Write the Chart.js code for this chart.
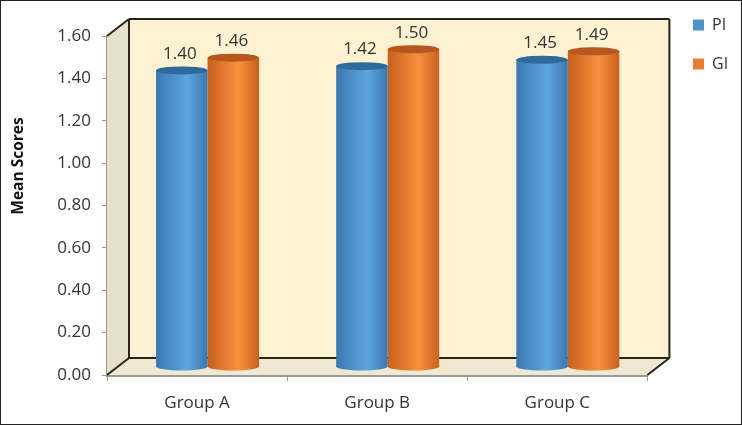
<!DOCTYPE html>
<html>
<head>
<meta charset="utf-8">
<script src="https://cdn.jsdelivr.net/npm/chart.js@4"></script>
<style>
    html, body { margin: 0; padding: 0; background: #fff; }
    #wrap { width: 742px; height: 425px; position: relative; }
    canvas { filter: blur(0.4px); }
</style>
</head>
<body>
<div id="wrap"><canvas id="chart"></canvas></div>
<script>
const categories = ["Group A", "Group B", "Group C"];
const piValues = [1.40, 1.42, 1.45];
const giValues = [1.46, 1.50, 1.49];
const yTicks = [0, 0.2, 0.4, 0.6, 0.8, 1.0, 1.2, 1.4, 1.6];

const FONT = "'Open Sans', sans-serif";
const TEXT = "#333";

// fake 3d depth of the box, bars stand half way in
const DEPTH_X = 22, DEPTH_Y = 17;
const BAR_DX = 10.5, BAR_DY = 8;
const CAP_RY = 4;

const colors = [
    { edge: "#3a78b2", mid: "#5ea6de", cap: "#2f6a9e" },
    { edge: "#c8601f", mid: "#f88f3e", cap: "#b8561e" },
];

function poly(ctx, pts, fill) {
    ctx.beginPath();
    pts.forEach((p, i) => (i ? ctx.lineTo(p[0], p[1]) : ctx.moveTo(p[0], p[1])));
    ctx.closePath();
    ctx.fillStyle = fill;
    ctx.fill();
}

function seg(ctx, a, b, color, width) {
    ctx.beginPath();
    ctx.moveTo(a[0], a[1]);
    ctx.lineTo(b[0], b[1]);
    ctx.strokeStyle = color;
    ctx.lineWidth = width;
    ctx.stroke();
}

const box3d = {
    id: "box3d",
    afterLayout(chart) {
        // legend sits higher than the plot top
        chart.legend.left = 670;
        chart.legend.right = 742;
        chart.legend.top = -6;
    },
    beforeDatasetsDraw(chart) {
        const { ctx, chartArea: a } = chart;
        const bl = [a.left, a.bottom], br = [a.right, a.bottom], tl = [a.left, a.top];
        const bbl = [a.left + DEPTH_X, a.bottom - DEPTH_Y];
        const bbr = [a.right + DEPTH_X, a.bottom - DEPTH_Y];
        const btl = [a.left + DEPTH_X, a.top - DEPTH_Y];
        const btr = [a.right + DEPTH_X, a.top - DEPTH_Y];
        ctx.save();
        poly(ctx, [btl, btr, bbr, bbl], "#fdf3d3");
        poly(ctx, [tl, btl, bbl, bl], "#e6e1ca");
        poly(ctx, [bl, bbl, bbr, br], "#efe9d2");
        seg(ctx, btl, btr, "#2a241c", 2);
        seg(ctx, btr, bbr, "#2a241c", 2);
        seg(ctx, btl, bbl, "#2a241c", 2);
        seg(ctx, bbl, bbr, "#2a241c", 2);
        seg(ctx, tl, btl, "#2a241c", 2);
        seg(ctx, bl, bbl, "#2a241c", 2);
        seg(ctx, br, bbr, "#2a241c", 2);
        ctx.restore();
    },
    beforeDatasetDraw(chart, args) {
        const { ctx } = chart;
        const c = colors[args.index];
        ctx.save();
        ctx.translate(BAR_DX, -BAR_DY);
        args.meta.data.forEach((bar) => {
            const left = bar.x - bar.width / 2, right = bar.x + bar.width / 2;
            const g = ctx.createLinearGradient(left, 0, right, 0);
            g.addColorStop(0, c.edge);
            g.addColorStop(0.6, c.mid);
            g.addColorStop(1, c.edge);
            bar.options = { ...bar.options, backgroundColor: g };
            // rounded foot of the cylinder
            ctx.beginPath();
            ctx.ellipse(bar.x, bar.base, bar.width / 2, CAP_RY, 0, 0, Math.PI * 2);
            ctx.fillStyle = g;
            ctx.fill();
        });
    },
    afterDatasetDraw(chart, args) {
        const { ctx } = chart;
        const c = colors[args.index];
        args.meta.data.forEach((bar) => {
            ctx.beginPath();
            ctx.ellipse(bar.x, bar.y, bar.width / 2, CAP_RY, 0, 0, Math.PI * 2);
            ctx.fillStyle = c.cap;
            ctx.fill();
        });
        ctx.restore();
    },
    afterDatasetsDraw(chart) {
        const { ctx } = chart;
        ctx.save();
        ctx.font = "17px " + FONT;
        ctx.fillStyle = TEXT;
        ctx.textAlign = "center";
        ctx.textBaseline = "middle";
        chart.data.datasets.forEach((ds, i) => {
            chart.getDatasetMeta(i).data.forEach((bar, j) => {
                ctx.fillText(ds.data[j].toFixed(2), bar.x + BAR_DX - 2, bar.y - BAR_DY - 16.5);
            });
        });
        // axis title is not centred on the axis in the original
        ctx.translate(19, 166);
        ctx.rotate(-Math.PI / 2);
        ctx.font = "bold 15.5px " + FONT;
        ctx.fillStyle = "#111";
        ctx.fillText("Mean Scores", 0, 0);
        ctx.restore();
        // picture border
        ctx.save();
        ctx.strokeStyle = "#222";
        ctx.lineWidth = 2;
        ctx.strokeRect(0, 0, chart.width, chart.height);
        ctx.restore();
    },
};

new Chart(document.getElementById("chart"), {
    type: "bar",
    data: {
        labels: categories,
        datasets: [
            { label: "PI", data: piValues, backgroundColor: "#4f93cf" },
            { label: "GI", data: giValues, backgroundColor: "#ec7a30" },
        ],
    },
    options: {
        responsive: true,
        maintainAspectRatio: false,
        animation: false,
        layout: { padding: { top: 36, right: 26.5, bottom: 0, left: 0 } },
        datasets: { bar: { barPercentage: 1, categoryPercentage: 0.572 } },
        plugins: {
            tooltip: { enabled: false },
            legend: {
                position: "right",
                align: "start",
                labels: {
                    boxWidth: 11,
                    boxHeight: 11,
                    padding: 23,
                    color: TEXT,
                    font: { family: FONT, size: 16 },
                },
            },
        },
        scales: {
            x: {
                border: { color: "#999", width: 3 },
                grid: { drawOnChartArea: false, drawTicks: true, tickLength: 6, color: "#999", lineWidth: 1 },
                ticks: { color: TEXT, padding: 12, font: { family: FONT, size: 17 } },
                afterFit(scale) { scale.height = 50; },
            },
            y: {
                min: 0,
                max: 1.6,
                afterBuildTicks(scale) { scale.ticks = yTicks.map((v) => ({ value: v })); },
                border: { color: "#999", width: 3 },
                grid: { drawOnChartArea: false, drawTicks: true, tickLength: 5, color: "#999", lineWidth: 1 },
                ticks: {
                    color: TEXT,
                    padding: 11,
                    font: { family: FONT, size: 17 },
                    callback: (v) => Number(v).toFixed(2),
                },
                afterFit(scale) { scale.width = 107; },
            },
        },
    },
    plugins: [box3d],
});
</script>
</body>
</html>
